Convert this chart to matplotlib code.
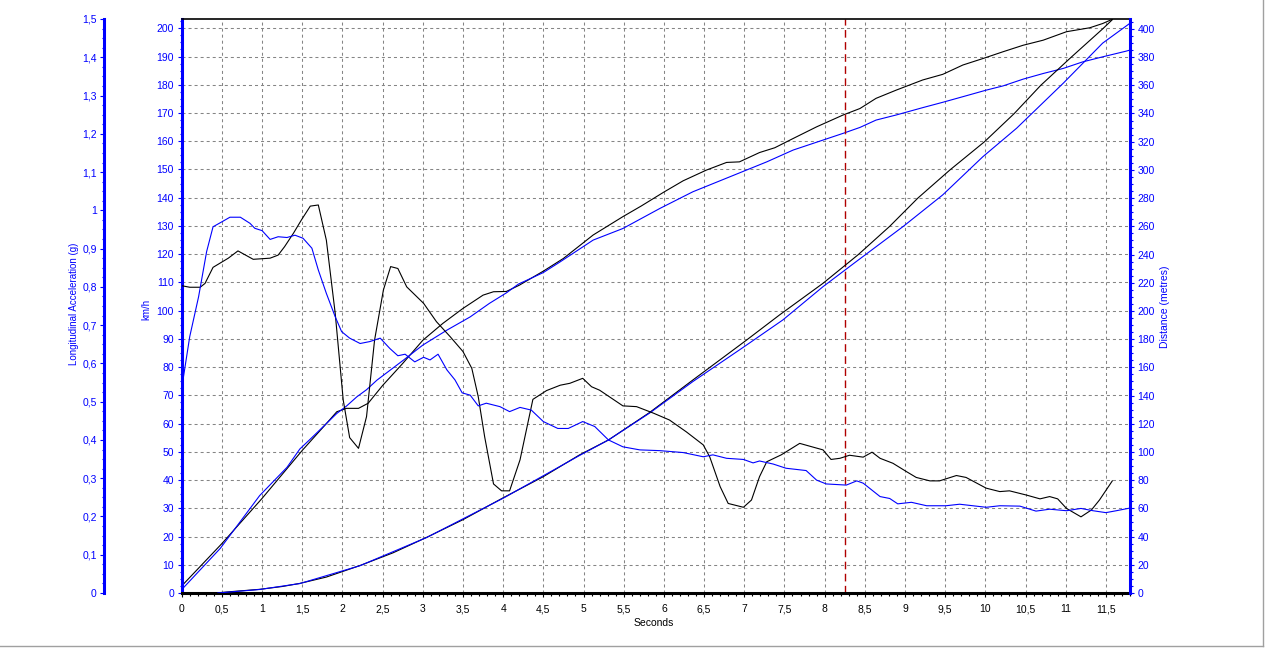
import numpy as np
import matplotlib
matplotlib.use("Agg")
import matplotlib.pyplot as plt
from matplotlib.ticker import MultipleLocator, FixedLocator, FuncFormatter
from matplotlib.lines import Line2D

plt.rcParams['font.family'] = ['Liberation Sans', 'DejaVu Sans']

# --- data: (seconds, value) ---
acc_black = [(0, 0.803), (0.1, 0.799), (0.23, 0.799), (0.29, 0.809), (0.39, 0.851), (0.58, 0.875),
             (0.70, 0.894), (0.89, 0.872), (1.10, 0.875), (1.20, 0.883), (1.28, 0.905), (1.39, 0.940),
             (1.49, 0.975), (1.60, 1.011), (1.70, 1.014), (1.80, 0.922), (1.91, 0.731), (2.01, 0.504),
             (2.09, 0.406), (2.20, 0.378), (2.30, 0.461), (2.40, 0.661), (2.51, 0.792), (2.60, 0.853),
             (2.69, 0.848), (2.80, 0.800), (3.01, 0.757), (3.17, 0.709), (3.34, 0.670), (3.50, 0.631),
             (3.61, 0.587), (3.69, 0.513), (3.77, 0.408), (3.88, 0.285), (3.98, 0.267), (4.08, 0.267),
             (4.21, 0.348), (4.37, 0.506), (4.54, 0.529), (4.71, 0.543), (4.83, 0.548), (4.99, 0.561),
             (5.10, 0.539), (5.20, 0.530), (5.49, 0.489), (5.66, 0.487), (5.87, 0.470), (6.07, 0.452),
             (6.28, 0.421), (6.41, 0.400), (6.49, 0.387), (6.57, 0.356), (6.70, 0.278), (6.80, 0.234),
             (6.99, 0.224), (7.09, 0.243), (7.19, 0.304), (7.28, 0.343), (7.46, 0.361), (7.69, 0.391),
             (7.86, 0.381), (7.98, 0.374), (8.08, 0.349), (8.19, 0.352), (8.31, 0.360), (8.48, 0.355),
             (8.59, 0.368), (8.69, 0.352), (8.85, 0.339), (9.02, 0.317), (9.14, 0.302), (9.31, 0.293),
             (9.43, 0.293), (9.64, 0.307), (9.76, 0.302), (10.01, 0.274), (10.18, 0.265), (10.30, 0.267),
             (10.51, 0.256), (10.68, 0.246), (10.80, 0.252), (10.90, 0.246), (11.01, 0.221), (11.19, 0.199),
             (11.32, 0.217), (11.42, 0.243), (11.58, 0.293)]

acc_blue = [(0, 0.535), (0.10, 0.670), (0.21, 0.774), (0.31, 0.892), (0.39, 0.957), (0.50, 0.970),
            (0.60, 0.982), (0.73, 0.982), (0.85, 0.966), (0.91, 0.953), (1.00, 0.947), (1.10, 0.924),
            (1.20, 0.931), (1.31, 0.929), (1.41, 0.935), (1.51, 0.927), (1.62, 0.901), (1.70, 0.844),
            (1.80, 0.783), (1.91, 0.722), (1.99, 0.683), (2.09, 0.666), (2.22, 0.652), (2.34, 0.657),
            (2.47, 0.666), (2.59, 0.639), (2.69, 0.620), (2.78, 0.624), (2.90, 0.604), (3.01, 0.616),
            (3.09, 0.609), (3.19, 0.624), (3.30, 0.583), (3.40, 0.557), (3.49, 0.523), (3.59, 0.517),
            (3.69, 0.489), (3.79, 0.496), (3.96, 0.487), (4.08, 0.474), (4.21, 0.485), (4.35, 0.478),
            (4.50, 0.448), (4.68, 0.430), (4.81, 0.430), (4.99, 0.448), (5.14, 0.435), (5.31, 0.400),
            (5.49, 0.382), (5.70, 0.374), (5.95, 0.372), (6.24, 0.367), (6.49, 0.356), (6.61, 0.361),
            (6.78, 0.352), (6.99, 0.349), (7.11, 0.340), (7.19, 0.345), (7.36, 0.337), (7.52, 0.326),
            (7.77, 0.320), (7.90, 0.295), (8.02, 0.285), (8.27, 0.282), (8.40, 0.293), (8.48, 0.287),
            (8.69, 0.252), (8.81, 0.247), (8.91, 0.233), (9.08, 0.237), (9.27, 0.228), (9.51, 0.228),
            (9.68, 0.232), (10.01, 0.224), (10.18, 0.228), (10.43, 0.227), (10.63, 0.214), (10.80, 0.219),
            (11.01, 0.215), (11.19, 0.221), (11.34, 0.215), (11.50, 0.210), (11.63, 0.215), (11.80, 0.222)]

speed_black = [(0, 2.5), (0.5, 17.5), (1.0, 33.5), (1.5, 50.5), (1.8, 60.0), (1.93, 64.2), (2.05, 65.4),
               (2.2, 65.4), (2.32, 67.2), (2.5, 73.5), (2.75, 81.3), (3.0, 89.5), (3.25, 95.5),
               (3.5, 100.8), (3.75, 105.5), (3.88, 106.7), (4.04, 106.8), (4.2, 109.0), (4.5, 114.0),
               (4.75, 118.5), (5.12, 126.8), (5.49, 133.3), (5.72, 137.1), (6.0, 142.0), (6.24, 146.0),
               (6.53, 149.8), (6.78, 152.5), (6.94, 152.7), (7.19, 156.0), (7.38, 157.7), (7.61, 161.0),
               (7.9, 165.1), (8.23, 169.3), (8.44, 171.6), (8.64, 175.2), (8.89, 178.1), (9.22, 181.7),
               (9.47, 183.7), (9.72, 187.0), (9.97, 189.3), (10.22, 191.7), (10.47, 194.0), (10.72, 195.8),
               (11.01, 198.8), (11.3, 200.2), (11.46, 201.7), (11.58, 203.2)]

speed_blue = [(0, 1.2), (0.48, 15.8), (0.97, 34.5), (1.31, 44.5), (1.47, 51.0), (1.6, 54.5), (1.8, 60.0),
              (1.93, 63.6), (2.05, 66.2), (2.18, 69.5), (2.3, 72.0), (2.43, 75.4), (2.76, 82.5),
              (3.0, 87.8), (3.3, 93.1), (3.59, 97.8), (3.83, 102.6), (4.04, 106.3), (4.19, 109.4),
              (4.5, 113.5), (4.71, 117.3), (5.12, 125.0), (5.49, 129.1), (5.95, 136.2), (6.36, 142.1),
              (6.82, 147.4), (7.28, 152.7), (7.61, 156.9), (8.02, 160.8), (8.23, 162.8), (8.44, 164.9),
              (8.64, 167.5), (8.89, 169.3), (9.22, 171.9), (9.47, 173.8), (9.76, 176.1), (10.01, 178.1),
              (10.22, 179.6), (10.47, 182.0), (10.72, 184.0), (10.97, 185.8), (11.21, 188.1),
              (11.46, 189.9), (11.75, 191.9), (11.8, 192.3)]

dist_black = [(0.42, 0), (0.6, 0.9), (0.97, 2.6), (1.25, 4.6), (1.47, 6.8), (1.8, 11.3), (2.22, 19.5),
              (2.63, 28.5), (3.05, 39.5), (3.5, 52.0), (4.0, 67.5), (4.5, 82.5), (4.95, 97.9), (5.31, 108.5),
              (5.82, 127.9), (6.36, 151.0), (7.03, 179.4), (7.44, 197.2), (7.98, 219.6), (8.42, 240.0),
              (8.81, 260.0), (9.16, 280.0), (9.56, 300.0), (9.99, 320.0), (10.36, 340.0), (10.69, 360.0),
              (11.07, 380.0), (11.46, 400.0), (11.58, 406.5)]

dist_blue = [(0.45, 0), (0.97, 2.5), (1.47, 6.7), (2.22, 19.4), (3.05, 39.4), (4.0, 67.2), (4.95, 97.5),
             (5.31, 108.5), (5.82, 127.5), (6.36, 149.9), (6.99, 174.3), (7.48, 193.6), (7.98, 217.2),
             (8.37, 234.0), (8.98, 260.0), (9.47, 282.3), (9.97, 309.4), (10.39, 329.6), (10.97, 361.5),
             (11.46, 389.9), (11.8, 404.0)]

marker_time = 8.25

BLUE = '#0000ff'
W, H = 1268, 648


def fx(px):
    return px / W


def fy(py):
    return 1 - py / H


def comma(v, pos=None):
    s = f"{v:.3f}".rstrip('0').rstrip('.')
    return s.replace('.', ',')


def xy(pairs):
    a = np.array(pairs, dtype=float)
    return a[:, 0], a[:, 1]


fig = plt.figure(figsize=(W / 100, H / 100), dpi=100)
x0, x1, y0, y1 = 181.7, 1130, 593, 19
ax = fig.add_axes([fx(x0), fy(y0), fx(x1) - fx(x0), fy(y1) - fy(y0)])
ax2 = ax.twinx()
ax3 = ax.twinx()

ax.set_xlim(0, 11.8)
ax.set_ylim(0, 203.3)
ax2.set_ylim(0, 407)
ax3.set_ylim(0, 1.5)

# grid on the km/h axis
ax.set_axisbelow(True)
ax.grid(True, which='major', color='#858585', linestyle=(0, (2.9, 2.9)), linewidth=0.75)

# curves
ax3.plot(*xy(acc_black), color='black', lw=0.8)
ax3.plot(*xy(acc_blue), color=BLUE, lw=0.8)
ax.plot(*xy(speed_black), color='black', lw=0.8)
ax.plot(*xy(speed_blue), color=BLUE, lw=0.8)
ax2.plot(*xy(dist_black), color='black', lw=0.8)
ax2.plot(*xy(dist_blue), color=BLUE, lw=0.8)
ax.axvline(marker_time, color='#b00000', lw=1.0, linestyle=(0, (5.5, 3.2)))

# spines
ax.spines['right'].set_visible(False)
ax.spines['left'].set_color(BLUE)
ax.spines['left'].set_linewidth(2.2)
ax.spines['bottom'].set_linewidth(2.2)
ax.spines['top'].set_linewidth(1.2)
for s in ['left', 'top', 'bottom']:
    ax2.spines[s].set_visible(False)
ax2.spines['right'].set_color(BLUE)
ax2.spines['right'].set_linewidth(2.2)
for s in ['right', 'top', 'bottom']:
    ax3.spines[s].set_visible(False)
ax3.spines['left'].set_visible(True)
ax3.spines['left'].set_position(('axes', (104.3 - x0) / (x1 - x0)))
ax3.spines['left'].set_color(BLUE)
ax3.spines['left'].set_linewidth(2.2)
ax3.yaxis.set_ticks_position('left')

# ticks
ax.xaxis.set_major_locator(MultipleLocator(0.5))
ax.xaxis.set_minor_locator(MultipleLocator(0.1))
ax.xaxis.set_major_formatter(FuncFormatter(comma))
ax.yaxis.set_major_locator(FixedLocator(np.arange(0, 201, 10)))
ax.yaxis.set_minor_locator(MultipleLocator(2.5))
ax2.yaxis.set_major_locator(FixedLocator(np.arange(0, 401, 20)))
ax2.yaxis.set_minor_locator(MultipleLocator(5))
ax3.yaxis.set_major_locator(FixedLocator(np.round(np.arange(0, 1.51, 0.1), 2)))
ax3.yaxis.set_minor_locator(FixedLocator(np.round(np.arange(0, 1.51, 0.025), 3)))
ax3.yaxis.set_major_formatter(FuncFormatter(comma))

ax.tick_params(axis='x', which='major', direction='out', length=3, width=0.8, labelsize=7.5, pad=5)
ax.tick_params(axis='x', which='minor', direction='out', length=1.8, width=0.8)
for a in (ax, ax2, ax3):
    a.tick_params(axis='y', which='major', direction='out', length=3, width=0.8,
                  colors=BLUE, labelsize=7.5, pad=2.5)
    a.tick_params(axis='y', which='minor', direction='out', length=1.8, width=0.8, colors=BLUE)

# axis titles
fig.text(fx(74), fy(304), 'Longitudinal Acceleration (g)', rotation=90, ha='center', va='center',
         color=BLUE, fontsize=7)
fig.text(fx(146), fy(309), 'km/h', rotation=90, ha='center', va='center', color=BLUE, fontsize=7)
fig.text(fx(1165), fy(307), 'Distance (metres)', rotation=90, ha='center', va='center',
         color=BLUE, fontsize=7.5)
fig.text(fx(654), fy(623), 'Seconds', ha='center', va='center', color='black', fontsize=7.5)

# window frame edges
fig.add_artist(Line2D([fx(1263), fx(1263)], [fy(0), fy(646)], transform=fig.transFigure,
                      color='#a0a0a0', lw=1))
fig.add_artist(Line2D([0, fx(1263)], [fy(646), fy(646)], transform=fig.transFigure,
                      color='#a0a0a0', lw=1))

fig.savefig('out.png', dpi=100)
